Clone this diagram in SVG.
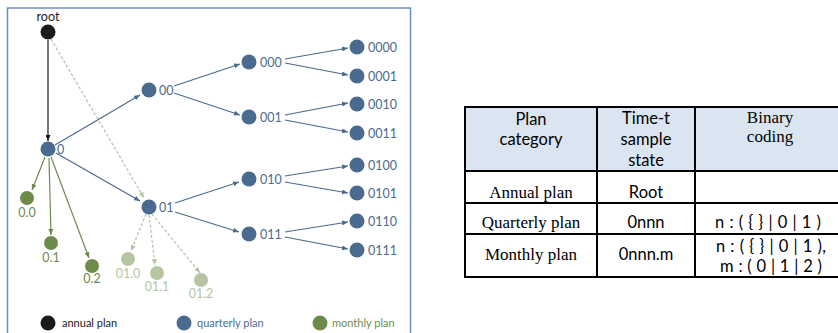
<svg xmlns="http://www.w3.org/2000/svg" width="838" height="333" viewBox="0 0 838 333">
<defs>
<marker id="ab" viewBox="0 0 6 5" refX="6" refY="2.5" markerWidth="6" markerHeight="5" markerUnits="userSpaceOnUse" orient="auto"><path d="M0,0 L6,2.5 L0,5 z" fill="#4b6a8f"/></marker>
<marker id="ak" viewBox="0 0 6 5" refX="6" refY="2.5" markerWidth="6" markerHeight="5" markerUnits="userSpaceOnUse" orient="auto"><path d="M0,0 L6,2.5 L0,5 z" fill="#1a1a1a"/></marker>
<marker id="ag" viewBox="0 0 6 5" refX="6" refY="2.5" markerWidth="6" markerHeight="5" markerUnits="userSpaceOnUse" orient="auto"><path d="M0,0 L6,2.5 L0,5 z" fill="#6e8b4c"/></marker>
<marker id="al" viewBox="0 0 6 5" refX="6" refY="2.5" markerWidth="6" markerHeight="5" markerUnits="userSpaceOnUse" orient="auto"><path d="M0,0 L6,2.5 L0,5 z" fill="#b5c2a2"/></marker>
</defs>
<style>
.lbl{font-family:Lato,"Liberation Sans",sans-serif;font-size:12.5px}
.b{fill:#4b6a8f}
.k{fill:#1a1a1a}
.g{fill:#6e8b4c}
.l{fill:#b7c6a0}
.eb{stroke:#4b6a8f;stroke-width:1.2;fill:none;marker-end:url(#ab)}
.ek{stroke:#1a1a1a;stroke-width:1.2;fill:none;marker-end:url(#ak)}
.eg{stroke:#6e8b4c;stroke-width:1.2;fill:none;marker-end:url(#ag)}
.el{stroke:#b5c2a2;stroke-width:1.2;fill:none;stroke-dasharray:3 2;marker-end:url(#al)}
.leg{font-family:Lato,"Liberation Sans",sans-serif;font-size:11px}
.ts{font-family:Lato,"Liberation Sans",sans-serif;font-size:16.5px;fill:#000;text-anchor:middle}
.tr{font-family:"Liberation Serif",serif;font-size:17px;fill:#000;text-anchor:middle}
.tl{stroke:#000;stroke-width:2;fill:none}
</style>
<rect x="7.5" y="8" width="403" height="335" fill="#fff" stroke="#6d8fc4" stroke-width="1.5"/>
<g id="connectors">
<line class="ek" x1="48" y1="40" x2="48" y2="141"/>
<line class="el" x1="51" y1="39" x2="144" y2="198"/>
<line class="eb" x1="55" y1="145" x2="140" y2="95"/>
<line class="eb" x1="56" y1="153" x2="140" y2="201"/>
<line class="eb" x1="174" y1="86" x2="240" y2="64"/>
<line class="eb" x1="174" y1="93" x2="240" y2="115"/>
<line class="eb" x1="285" y1="59" x2="348" y2="48"/>
<line class="eb" x1="285" y1="63" x2="348" y2="75"/>
<line class="eb" x1="285" y1="115" x2="348" y2="103"/>
<line class="eb" x1="285" y1="120" x2="348" y2="132"/>
<line class="eb" x1="175" y1="203" x2="239" y2="182"/>
<line class="eb" x1="175" y1="212" x2="239" y2="232"/>
<line class="eb" x1="285" y1="176" x2="348" y2="166"/>
<line class="eb" x1="285" y1="182" x2="348" y2="193"/>
<line class="eb" x1="285" y1="232" x2="348" y2="222"/>
<line class="eb" x1="285" y1="237" x2="348" y2="249"/>
<line class="eg" x1="45" y1="157" x2="32" y2="190"/>
<line class="eg" x1="49" y1="158" x2="51" y2="235"/>
<line class="eg" x1="51" y1="157" x2="89" y2="258"/>
<line class="el" x1="146" y1="214" x2="131" y2="251"/>
<line class="el" x1="149" y1="215" x2="155" y2="265"/>
<line class="el" x1="152" y1="214" x2="200" y2="273"/>
</g>
<g id="n-root"><circle class="k" cx="48" cy="32" r="7.5"/><text class="lbl k" x="48" y="21" text-anchor="middle">root</text></g>
<g id="n-0"><circle class="b" cx="48" cy="149" r="7.5"/><text class="lbl b" x="57" y="153.5">0</text></g>
<g id="n-00"><circle class="b" cx="149" cy="90" r="7.5"/><text class="lbl b" x="159" y="94.5">00</text></g>
<g id="n-01"><circle class="b" cx="149" cy="207" r="7.5"/><text class="lbl b" x="159" y="211.5">01</text></g>
<g id="n-000"><circle class="b" cx="249" cy="62" r="7.5"/><text class="lbl b" x="260" y="66.5">000</text></g>
<g id="n-001"><circle class="b" cx="249" cy="117" r="7.5"/><text class="lbl b" x="260" y="121.5">001</text></g>
<g id="n-010"><circle class="b" cx="249" cy="179" r="7.5"/><text class="lbl b" x="260" y="183.5">010</text></g>
<g id="n-011"><circle class="b" cx="249" cy="234" r="7.5"/><text class="lbl b" x="260" y="238.5">011</text></g>
<g id="n-0000"><circle class="b" cx="357" cy="47" r="7.5"/><text class="lbl b" x="368" y="51.5">0000</text></g>
<g id="n-0001"><circle class="b" cx="357" cy="76" r="7.5"/><text class="lbl b" x="368" y="80.5">0001</text></g>
<g id="n-0010"><circle class="b" cx="357" cy="104" r="7.5"/><text class="lbl b" x="368" y="108.5">0010</text></g>
<g id="n-0011"><circle class="b" cx="357" cy="133" r="7.5"/><text class="lbl b" x="368" y="137.5">0011</text></g>
<g id="n-0100"><circle class="b" cx="357" cy="165" r="7.5"/><text class="lbl b" x="368" y="169.5">0100</text></g>
<g id="n-0101"><circle class="b" cx="357" cy="193" r="7.5"/><text class="lbl b" x="368" y="197.5">0101</text></g>
<g id="n-0110"><circle class="b" cx="357" cy="221" r="7.5"/><text class="lbl b" x="368" y="225.5">0110</text></g>
<g id="n-0111"><circle class="b" cx="357" cy="250" r="7.5"/><text class="lbl b" x="368" y="254.5">0111</text></g>
<g id="n-0.0"><circle class="g" cx="27" cy="198" r="7"/><text class="lbl g" x="27" y="217" text-anchor="middle">0.0</text></g>
<g id="n-0.1"><circle class="g" cx="51" cy="243" r="7"/><text class="lbl g" x="51" y="262" text-anchor="middle">0.1</text></g>
<g id="n-0.2"><circle class="g" cx="92" cy="266" r="7"/><text class="lbl g" x="92" y="283" text-anchor="middle">0.2</text></g>
<g id="n-01.0"><circle class="l" cx="128" cy="259" r="7"/><text class="lbl l" x="128" y="278" text-anchor="middle">01.0</text></g>
<g id="n-01.1"><circle class="l" cx="157" cy="273" r="7"/><text class="lbl l" x="157" y="291" text-anchor="middle">01.1</text></g>
<g id="n-01.2"><circle class="l" cx="201" cy="280" r="7"/><text class="lbl l" x="201" y="298" text-anchor="middle">01.2</text></g>
<g id="legend">
<circle class="k" cx="48" cy="323" r="7.5"/><text class="leg k" x="62" y="327">annual plan</text>
<circle class="b" cx="184" cy="323" r="7.5"/><text class="leg b" x="197" y="327">quarterly plan</text>
<circle class="g" cx="320" cy="323" r="7.5"/><text class="leg g" x="332" y="327">monthly plan</text>
</g>
<g id="table">
<rect x="465" y="107" width="380" height="64" fill="#dbe5f1"/>
<path class="tl" d="M465,107 H838 M465,171 H838 M465,203 H838 M465,234 H838 M465,277 H838 M465,106 V278 M597,106 V278 M695,106 V278"/>
<text class="ts" x="531" y="125">Plan</text>
<text class="ts" x="531" y="145">category</text>
<text class="ts" x="646" y="124">Time-t</text>
<text class="ts" x="646" y="145">sample</text>
<text class="ts" x="646" y="166">state</text>
<text class="tr" x="770" y="123">Binary</text>
<text class="tr" x="770" y="142">coding</text>
<text class="tr" x="531" y="198">Annual plan</text>
<text class="ts" x="646" y="198">Root</text>
<text class="tr" x="531" y="228">Quarterly plan</text>
<text class="ts" x="646" y="228">0nnn</text>
<text class="ts" x="768" y="228" textLength="106" lengthAdjust="spacing">n : ( { } | 0 | 1 )</text>
<text class="ts" x="771" y="252" textLength="110" lengthAdjust="spacing">n : ( { } | 0 | 1 ),</text>
<text class="ts" x="771" y="272" textLength="102" lengthAdjust="spacing">m : ( 0 | 1 | 2 )</text>
<text class="tr" x="531" y="260">Monthly plan</text>
<text class="ts" x="646" y="260">0nnn.m</text>
</g>
</svg>
